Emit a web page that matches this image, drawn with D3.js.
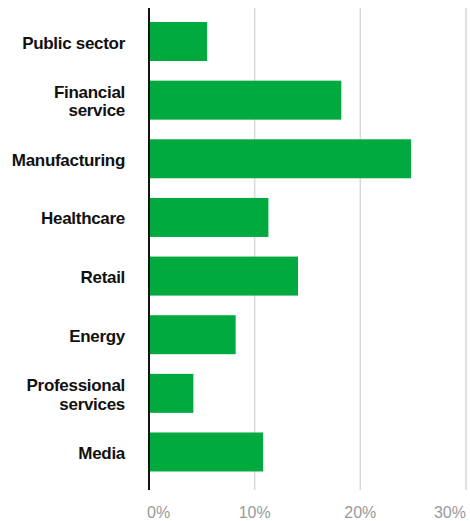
<!DOCTYPE html>
<html>
<head>
<meta charset="utf-8">
<script src="https://cdn.jsdelivr.net/npm/d3@7"></script>
<style>
  body { margin: 0; background: #fff; }
  svg { display: block; }
</style>
</head>
<body>
<div id="container"></div>
<script>
// chart data
var sectors = ["Public sector", "Financial service", "Manufacturing", "Healthcare",
               "Retail", "Energy", "Professional services", "Media"];
var labelLines = [["Public sector"], ["Financial", "service"], ["Manufacturing"], ["Healthcare"],
                  ["Retail"], ["Energy"], ["Professional", "services"], ["Media"]];
var shares = [5.5, 18.2, 24.8, 11.3, 14.1, 8.2, 4.2, 10.8];
var ticks = [0, 10, 20, 30];

var w = 470, h = 521;
var x0 = 149, x30 = 466;

var svg = d3.select("#container")
            .append("svg")
            .attr("width", w)
            .attr("height", h);

var x = d3.scaleLinear().domain([0, 30]).range([x0, x30]);
var y = d3.scaleBand()
          .domain(sectors)
          .range([12.2, 481.3])
          .paddingInner(0.335)
          .paddingOuter(0.1675);

// gridlines
svg.append("g")
   .selectAll("line")
   .data(ticks.slice(1))
   .enter()
   .append("line")
   .attr("x1", d => x(d)).attr("x2", d => x(d))
   .attr("y1", 8).attr("y2", 490)
   .attr("stroke", "#d9d9d9")
   .attr("stroke-width", 1.5);

// bars
svg.append("g")
   .selectAll("rect")
   .data(sectors)
   .enter()
   .append("rect")
   .attr("x", x(0))
   .attr("y", d => y(d))
   .attr("width", (d, i) => x(shares[i]) - x(0))
   .attr("height", y.bandwidth())
   .attr("fill", "#00aa3f");

// axis line
svg.append("line")
   .attr("x1", x0).attr("x2", x0)
   .attr("y1", 8).attr("y2", 490)
   .attr("stroke", "#111")
   .attr("stroke-width", 2);

// category labels
var lab = svg.append("g")
   .selectAll("text")
   .data(sectors)
   .enter()
   .append("text")
   .attr("text-anchor", "end")
   .attr("font-family", "Liberation Sans, Arial, sans-serif")
   .attr("font-weight", "bold")
   .attr("font-size", 17)
   .attr("letter-spacing", -0.3)
   .attr("fill", "#111");

lab.each(function(d, i) {
    var lines = labelLines[i];
    var cy = y(d) + y.bandwidth() / 2;
    var lh = 18.5;
    var start = cy + 7 - (lines.length - 1) * lh / 2;
    d3.select(this).selectAll("tspan")
      .data(lines)
      .enter()
      .append("tspan")
      .attr("x", 125)
      .attr("y", (t, j) => start + j * lh)
      .text(t => t);
});

// tick labels
svg.append("g")
   .selectAll("text")
   .data(ticks)
   .enter()
   .append("text")
   .attr("x", (d, i) => i === 0 ? x(d) - 2 : x(d))
   .attr("y", 518)
   .attr("text-anchor", (d, i) => i === 0 ? "start" : i === ticks.length - 1 ? "end" : "middle")
   .attr("font-family", "Liberation Sans, Arial, sans-serif")
   .attr("font-size", 16)
   .attr("fill", "#9a9a9a")
   .text(d => d + "%");
</script>
</body>
</html>
